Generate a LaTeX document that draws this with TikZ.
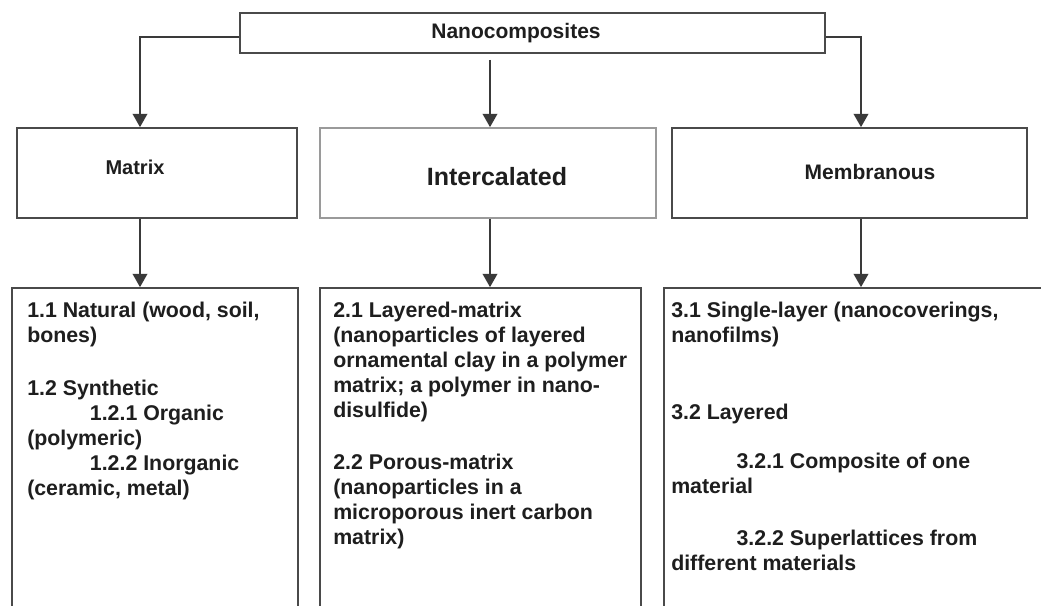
\documentclass[tikz,border=0pt]{standalone}
\usepackage{fontspec}
\setmainfont{Liberation Sans}
\usetikzlibrary{arrows.meta,calc}
\definecolor{boxline}{HTML}{4A4A4A}
\definecolor{lightline}{HTML}{9A9A9A}
\definecolor{connc}{HTML}{3A3A3A}
\definecolor{txt}{HTML}{1E1E1E}
\begin{document}
\begin{tikzpicture}[x=0.75pt,y=-0.75pt,
  box/.style={draw=boxline,line width=1.3pt,fill=white,inner sep=0pt,rectangle},
  lbl/.style={text=txt,font=\bfseries\fontsize{15.75}{18}\selectfont,inner sep=0pt},
  body/.style={text=txt,font=\bfseries\fontsize{16}{18.75}\selectfont,inner sep=0pt,align=left,anchor=north west},
  conn/.style={draw=connc,line width=1.3pt},
  arr/.style={conn,-{Triangle[width=11pt,length=10pt]}}]
\clip (0,0) rectangle (1041,606);
\fill[white] (0,0) rectangle (1041,606);

% top
\node[box,minimum width=438.75pt,minimum height=30pt] (top) at (532.5,33) {};
\node[lbl] (toplbl) at (516,33) {Nanocomposites};

% second row
\node[box,minimum width=210pt,minimum height=67.5pt] (m) at (157,173) {};
\node[lbl,font=\bfseries\fontsize{15}{18}\selectfont] (mlbl) at (135,167) {Matrix};
\node[box,draw=lightline,minimum width=252pt,minimum height=67.5pt] (i) at (488,173) {};
\node[lbl,font=\bfseries\fontsize{18.75}{22}\selectfont] (ilbl) at (497,177) {Intercalated};
\node[box,minimum width=266.25pt,minimum height=67.5pt] (b) at (849.5,173) {};
\node[lbl] (blbl) at (870,172) {Membranous};

% third row
\node[box,minimum width=214.5pt,minimum height=243pt] (l1) at (155,450) {};
\node[box,minimum width=240.75pt,minimum height=243pt] (l2) at (480.5,450) {};
\node[box,minimum width=289.5pt,minimum height=243pt] (l3) at (857,450) {};

% connectors
\coordinate (x1) at (140,0);
\coordinate (x2) at (490,0);
\coordinate (x3) at (861,0);
\draw[arr] ($(top.west)+(0,4)$) -| (x1 |- m.north);
\draw[arr] ($(x2 |- top.south)+(0,6)$) -- (x2 |- i.north);
\draw[arr] ($(top.east)+(0,4)$) -| (x3 |- b.north);
\draw[arr] (x1 |- m.south) -- (x1 |- l1.north);
\draw[arr] (x2 |- i.south) -- (x2 |- l2.north);
\draw[arr] (x3 |- b.south) -- (x3 |- l3.north);

% texts
\node[body] (t1) at (27,302) {1.1 Natural (wood, soil,\\ bones)\\[21pt] 1.2 Synthetic\\ \hspace*{47pt}1.2.1 Organic\\ (polymeric)\\ \hspace*{47pt}1.2.2 Inorganic\\ (ceramic, metal)};
\node[body] (t2) at (333,302) {2.1 Layered-matrix\\ (nanoparticles of layered\\ ornamental clay in a polymer\\ matrix; a polymer in nano-\\ disulfide)\\[20pt] 2.2 Porous-matrix\\ (nanoparticles in a\\ microporous inert carbon\\ matrix)};
\node[body] (t3) at (671,302) {3.1 Single-layer (nanocoverings,\\ nanofilms)\\[39pt] 3.2 Layered\\[18pt] \hspace*{49pt}3.2.1 Composite of one\\ material\\[20pt] \hspace*{49pt}3.2.2 Superlattices from\\ different materials};
\end{tikzpicture}
\end{document}
